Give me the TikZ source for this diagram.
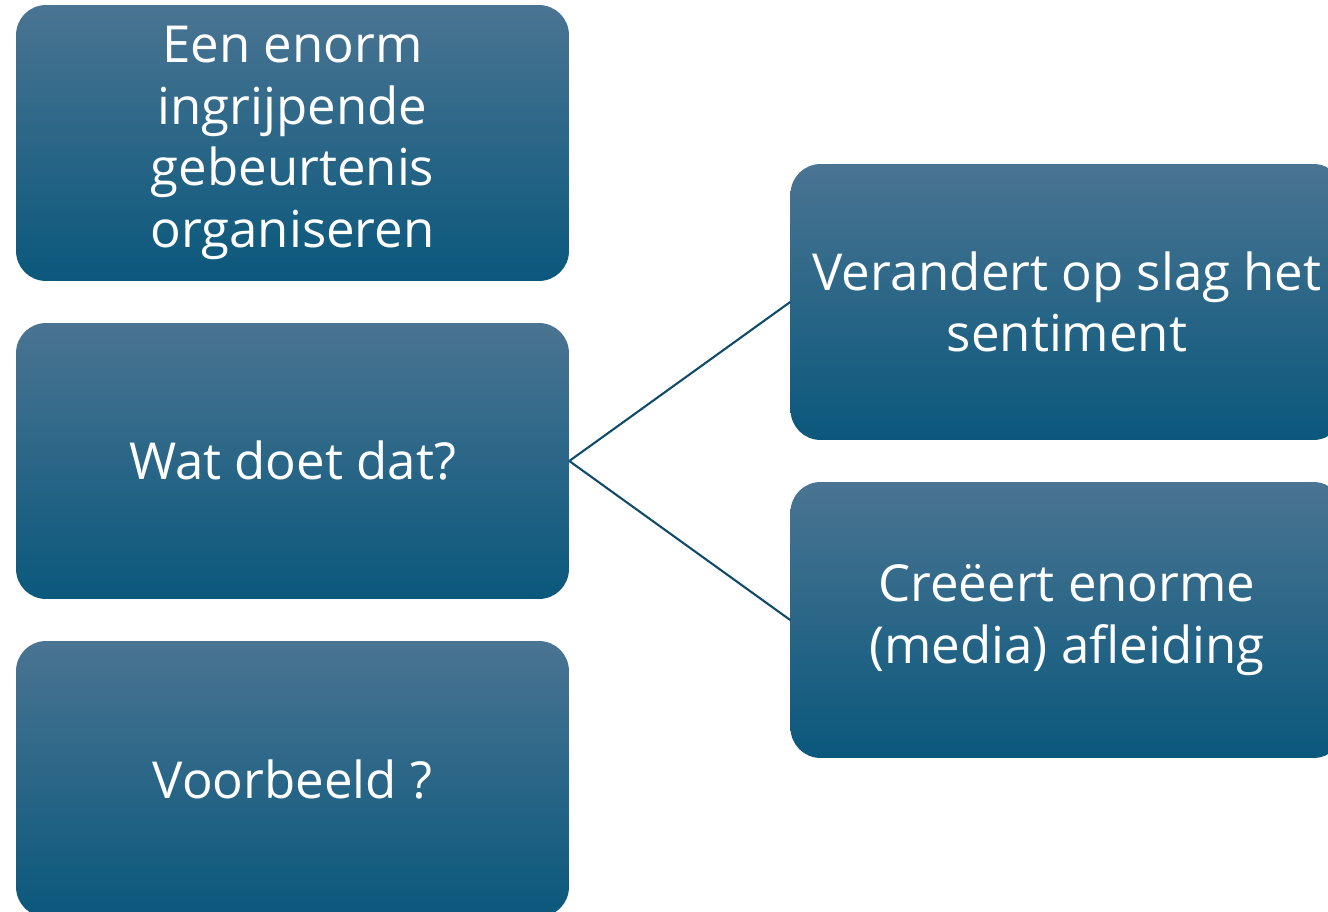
\documentclass[tikz,border=0pt]{standalone}
\usepackage{fontspec}
\setmainfont{Open Sans}
\usepackage{tikz}
\usetikzlibrary{positioning}

\definecolor{boxtop}{RGB}{74,116,146}
\definecolor{boxmid}{RGB}{22,100,136}
\definecolor{boxbot}{RGB}{10,88,124}
\definecolor{linkcol}{RGB}{16,76,106}

\tikzset{
  block/.style={rectangle, rounded corners=0.6cm, minimum width=11.06cm, minimum height=5.52cm,
    top color=boxtop, middle color=boxmid, bottom color=boxbot, draw=none,
    text=white, align=center, font=\fontsize{29}{35}\selectfont},
  link/.style={draw=linkcol, line width=1.2pt}
}

\begin{document}
\begin{tikzpicture}[x=0.02cm, y=-0.02cm]
            \useasboundingbox (0,0) rectangle (1328,912);

            \node[block] (event) at (292.5, 143) {Een enorm\\ingrijpende\\gebeurtenis\\organiseren};
            \node[block] (wat) at (292.5, 461) {Wat doet dat?};
            \node[block] (vb) at (292.5, 779) {Voorbeeld ?};

            %gevolgen
            \node[block] (sent) at (1067, 302) {Verandert op slag het\\sentiment};
            \node[block] (afl) at (1067, 620) {Creëert enorme\\(media) afleiding};

            \draw[link] (wat.east) -- (sent.west);
            \draw[link] (wat.east) -- (afl.west);
        \end{tikzpicture}
\end{document}
